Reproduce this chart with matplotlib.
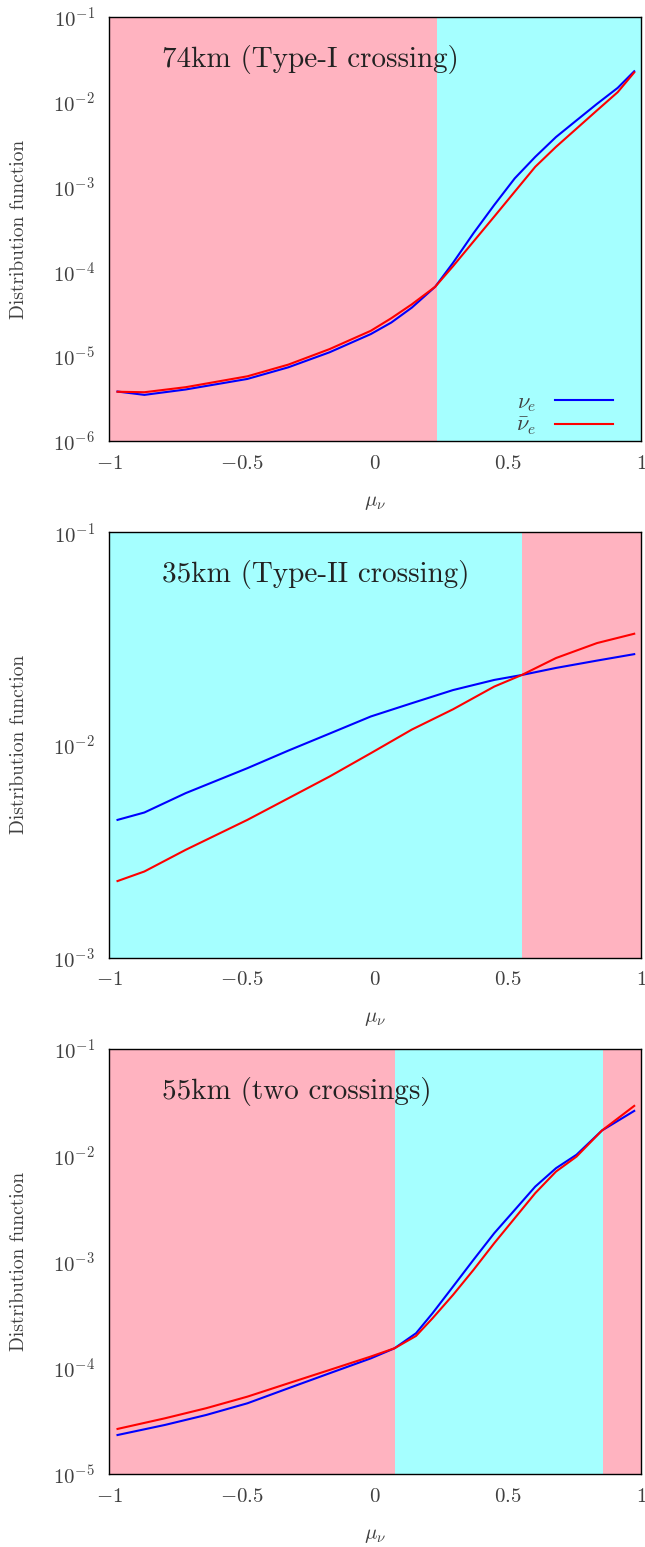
import numpy as np
import matplotlib
matplotlib.use("Agg")
import matplotlib.pyplot as plt

plt.rcParams["font.family"] = "serif"
plt.rcParams["font.serif"] = ["cmr10", "DejaVu Serif"]
plt.rcParams["mathtext.fontset"] = "cm"
plt.rcParams["axes.formatter.use_mathtext"] = True

PINK = "#ffb3c0"
CYAN = "#a5ffff"
TXT = "#404040"

# Panel 1: 74km (Type-I crossing)
mu_74 = [-0.968, -0.867, -0.712, -0.480, -0.326, -0.171, -0.016, 0.061, 0.138, 0.226,
         0.293, 0.370, 0.448, 0.525, 0.602, 0.680, 0.757, 0.834, 0.912, 0.974]
nue_74 = [3.82e-6, 3.49e-6, 4.04e-6, 5.38e-6, 7.38e-6, 1.11e-5, 1.82e-5, 2.49e-5, 3.73e-5, 6.58e-5,
          1.26e-4, 2.82e-4, 6.07e-4, 1.25e-3, 2.24e-3, 3.84e-3, 6.03e-3, 9.45e-3, 1.46e-2, 2.29e-2]
nuebar_74 = [3.80e-6, 3.75e-6, 4.30e-6, 5.78e-6, 7.94e-6, 1.21e-5, 1.99e-5, 2.80e-5, 4.08e-5, 6.58e-5,
             1.15e-4, 2.25e-4, 4.43e-4, 8.71e-4, 1.71e-3, 2.94e-3, 4.82e-3, 7.91e-3, 1.30e-2, 2.22e-2]

# Panel 2: 35km (Type-II crossing)
mu_35 = [-0.968, -0.867, -0.712, -0.480, -0.326, -0.171, -0.016, 0.138, 0.293, 0.448,
         0.551, 0.680, 0.834, 0.974]
nue_35 = [4.44e-3, 4.81e-3, 5.93e-3, 7.77e-3, 9.40e-3, 1.13e-2, 1.36e-2, 1.57e-2, 1.81e-2, 2.02e-2,
          2.13e-2, 2.30e-2, 2.49e-2, 2.67e-2]
nuebar_35 = [2.29e-3, 2.54e-3, 3.21e-3, 4.44e-3, 5.61e-3, 7.10e-3, 9.14e-3, 1.18e-2, 1.47e-2, 1.88e-2,
             2.13e-2, 2.56e-2, 3.01e-2, 3.33e-2]

# Panel 3: 55km (two crossings)
mu_55 = [-0.968, -0.790, -0.635, -0.480, -0.326, -0.171, -0.016, 0.073, 0.154, 0.216,
         0.293, 0.370, 0.448, 0.525, 0.602, 0.680, 0.757, 0.853, 0.974]
nue_55 = [2.34e-5, 2.91e-5, 3.61e-5, 4.65e-5, 6.44e-5, 8.91e-5, 1.23e-4, 1.53e-4, 2.12e-4, 3.27e-4,
          5.82e-4, 1.04e-3, 1.85e-3, 3.06e-3, 5.07e-3, 7.55e-3, 1.01e-2, 1.71e-2, 2.61e-2]
nuebar_55 = [2.67e-5, 3.36e-5, 4.18e-5, 5.37e-5, 7.17e-5, 9.57e-5, 1.28e-4, 1.53e-4, 2.00e-4, 2.93e-4,
             4.86e-4, 8.36e-4, 1.49e-3, 2.56e-3, 4.40e-3, 7.02e-3, 9.70e-3, 1.71e-2, 2.91e-2]

panels = [
    ("74km (Type-I crossing)", mu_74, nue_74, nuebar_74, (1e-6, 1e-1),
     [(-1, 0.232, PINK), (0.232, 1, CYAN)], [0.989, 0.715]),
    ("35km (Type-II crossing)", mu_35, nue_35, nuebar_35, (1e-3, 1e-1),
     [(-1, 0.553, CYAN), (0.553, 1, PINK)], [0.656, 0.381]),
    ("55km (two crossings)", mu_55, nue_55, nuebar_55, (1e-5, 1e-1),
     [(-1, 0.075, PINK), (0.075, 0.858, CYAN), (0.858, 1, PINK)], [0.322, 0.047]),
]

fig = plt.figure(figsize=(6.45, 15.47), dpi=100)

for i, (title, mu, nue, nuebar, ylim, spans, (top, bot)) in enumerate(panels):
    ax = fig.add_axes([0.169, bot, 0.825, top - bot])
    for a, b, c in spans:
        ax.axvspan(a, b, color=c, lw=0, zorder=0)
    ax.plot(mu, nue, color="blue", lw=1.5, label=r"$\nu_e$", zorder=3)
    ax.plot(mu, nuebar, color="red", lw=1.5, label=r"$\bar{\nu}_e$", zorder=3)
    ax.set_yscale("log")
    ax.set_xlim(-1, 1)
    ax.set_ylim(*ylim)
    ax.set_xticks([-1, -0.5, 0, 0.5, 1])
    ax.set_xticklabels([r"$-1$", r"$-0.5$", r"$0$", r"$0.5$", r"$1$"])
    ax.yaxis.set_minor_locator(matplotlib.ticker.NullLocator())
    ax.tick_params(length=0, labelsize=15, pad=10, labelcolor=TXT)
    ax.set_xlabel(r"$\mu_\nu$", fontsize=15, labelpad=15, color=TXT)
    ax.set_ylabel("Distribution function", fontsize=14, labelpad=18, color=TXT)
    ax.text(0.1, 0.9, title, transform=ax.transAxes, fontsize=21,
            va="center", ha="left", color="#222222", zorder=4)
    for s in ax.spines.values():
        s.set_linewidth(1.0)
        s.set_zorder(5)
    if i == 0:
        leg = ax.legend(loc="lower right", bbox_to_anchor=(0.963, -0.012),
                        frameon=False, markerfirst=False, fontsize=16,
                        handlelength=2.6, borderaxespad=0, labelspacing=0.1)
        for t in leg.get_texts():
            t.set_color(TXT)

fig.savefig("out.png", dpi=100)
